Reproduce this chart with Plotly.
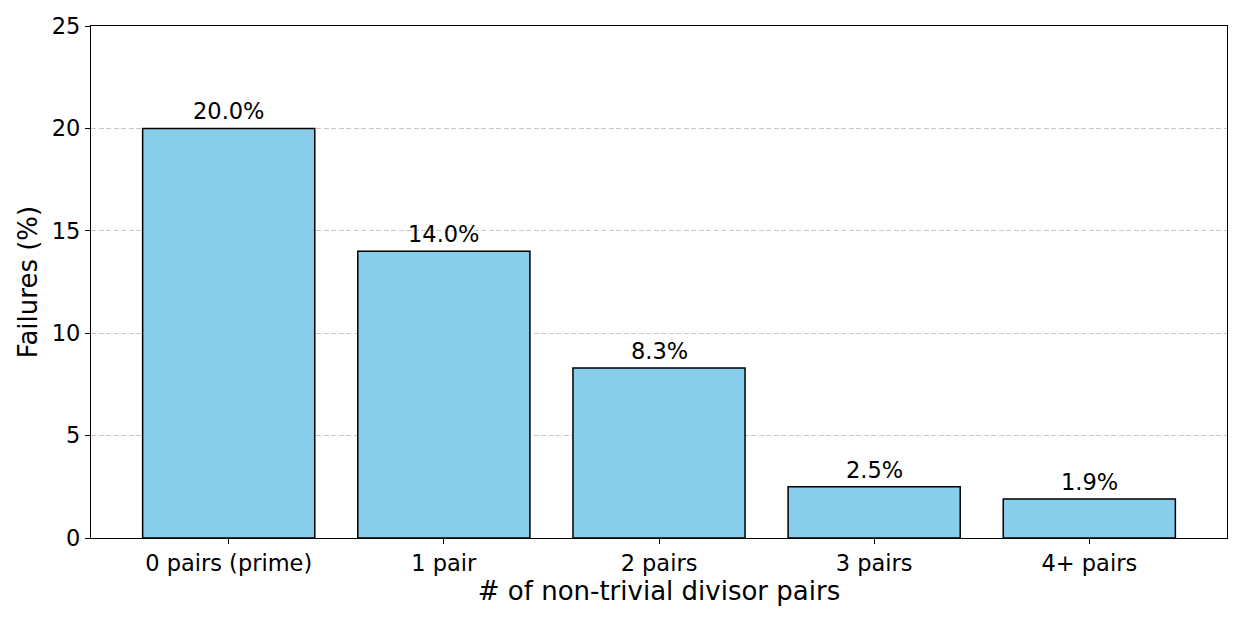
import plotly.graph_objects as go

categories = ["0 pairs (prime)", "1 pair", "2 pairs", "3 pairs", "4+ pairs"]
failures = [20.0, 14.0, 8.3, 2.5, 1.9]
bar_labels = ["20.0%", "14.0%", "8.3%", "2.5%", "1.9%"]
y_ticks = [0, 5, 10, 15, 20, 25]

FONT = "DejaVu Sans"
TICK_SIZE = 22.5

fig = go.Figure()
fig.add_trace(go.Bar(
    x=list(range(len(categories))),
    y=failures,
    width=0.8,
    marker=dict(color="#87CEEB", line=dict(color="black", width=1.5)),
    hoverinfo="skip",
))

for i, (v, t) in enumerate(zip(failures, bar_labels)):
    fig.add_annotation(x=i, y=v, text=t, showarrow=False, yanchor="bottom",
                       yshift=2, font=dict(family=FONT, size=TICK_SIZE, color="black"))

fig.update_layout(
    width=1246, height=623,
    margin=dict(l=91, r=19, t=26, b=85),
    plot_bgcolor="white", paper_bgcolor="white",
    showlegend=False,
    font=dict(family=FONT, color="black"),
)
fig.update_xaxes(
    range=[-0.64, 4.64],
    tickmode="array", tickvals=list(range(len(categories))), ticktext=categories,
    tickfont=dict(family=FONT, size=TICK_SIZE, color="black"),
    ticks="outside", ticklen=5, tickwidth=1.2, tickcolor="black",
    showline=True, linecolor="black", linewidth=1.2, mirror=True,
    showgrid=False, zeroline=False,
    title=dict(text="# of non-trivial divisor pairs", font=dict(family=FONT, size=26, color="black"), standoff=6),
)
fig.update_yaxes(
    range=[0, 25],
    tickmode="array", tickvals=y_ticks,
    tickfont=dict(family=FONT, size=TICK_SIZE, color="black"),
    ticks="outside", ticklen=5, tickwidth=1.2, tickcolor="black",
    showline=True, linecolor="black", linewidth=1.2, mirror=True,
    showgrid=True, gridcolor="#c8c8c8", griddash="5px,2.5px", gridwidth=1,
    zeroline=False,
    title=dict(text="Failures (%)", font=dict(family=FONT, size=26, color="black"), standoff=6),
)

fig.write_html("out.html", config={"displayModeBar": False},
               post_script="document.body.style.margin='0';")
